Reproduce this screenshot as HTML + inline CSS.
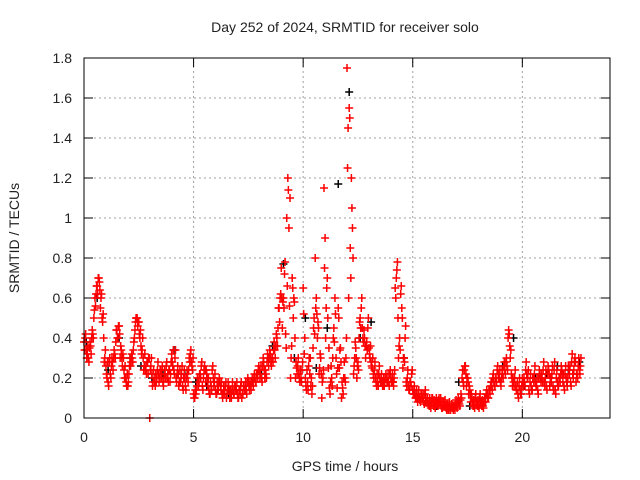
<!DOCTYPE html>
<html><head><meta charset="utf-8"><style>
body{margin:0;background:#fff}
svg{display:block;font-family:"Liberation Sans",sans-serif}
</style></head><body>
<svg id="chart" width="640" height="480" viewBox="0 0 640 480" xmlns="http://www.w3.org/2000/svg">
<rect width="640" height="480" fill="#fff"/>
<text x="345" y="32" font-size="14" text-anchor="middle" fill="#222">Day 252 of 2024, SRMTID for receiver solo</text>
<text transform="translate(19,238) rotate(-90)" font-size="14" text-anchor="middle" fill="#222">SRMTID / TECUs</text>
<text x="345" y="471" font-size="14" text-anchor="middle" fill="#222">GPS time / hours</text>
<g id="grid"></g>
<g id="ticks"></g>
<g id="marks"></g>
<rect x="84" y="58" width="526" height="360" fill="none" stroke="#000" stroke-width="1"/>
</svg>
<script>
const xTicks=[0,5,10,15,20];
const yTicks=[0,0.2,0.4,0.6,0.8,1,1.2,1.4,1.6,1.8];
const yTickLabels=["0","0.2","0.4","0.6","0.8","1","1.2","1.4","1.6","1.8"];
const redA=[0.38,0.34,0.30,0.36,0.42,0.60,0.66,0.68,0.62,0.40,
0.26,0.18,0.22,0.28,0.32,0.44,0.46,0.34,0.30,0.20,
0.16,0.30,0.30,0.40,0.50,0.48,0.36,0.30,0.24,0.28,
0.00,0.22,0.20,0.18,0.22,0.24,0.18,0.22,0.20,0.24,
0.32,0.24,0.20,0.22,0.18,0.16,0.20,0.24,0.30,0.28,
0.12,0.12,0.20,0.22,0.16,0.26,0.22,0.14,0.16,0.20,
0.14,0.16,0.18,0.12,0.14,0.10,0.16,0.12,0.14,0.16,
0.12,0.14,0.10,0.16,0.14,0.18,0.16,0.18,0.20,0.22,
0.24,0.20,0.28,0.22,0.30,0.32,0.30,0.34,0.40,0.55,
0.75,0.60,0.42,1.20,1.10,0.70,0.58,0.25,0.22,0.20,
0.65,0.20,0.18,0.22,0.12,0.50,0.60,0.45,0.30,0.20,
0.90,0.70,0.15,0.20,0.45,0.30,0.55,0.35,0.15,0.20,
1.75,1.55,1.20,0.22,0.35,0.28,0.50,0.45,0.40,0.38,
0.35,0.28,0.22,0.20,0.18,0.20,0.18,0.16,0.20,0.18,
0.20,0.18,0.65,0.78,0.40,0.55,0.30,0.18,0.16,0.18,
0.14,0.12,0.10,0.10,0.12,0.08,0.10,0.08,0.06,0.10,
0.06,0.08,0.10,0.06,0.08,0.06,0.05,0.04,0.06,0.05,
0.06,0.08,0.12,0.18,0.26,0.20,0.14,0.10,0.06,0.08,
0.06,0.08,0.06,0.10,0.12,0.14,0.16,0.18,0.20,0.22,
0.18,0.22,0.24,0.26,0.42,0.22,0.18,0.16,0.12,0.14,
0.20,0.18,0.22,0.14,0.16,0.20,0.18,0.14,0.22,0.20,
0.18,0.16,0.24,0.20,0.16,0.14,0.18,0.20,0.24,0.16,
0.20,0.26,0.18,0.22,0.30,0.22,0.24];
const redB=[0.40,0.32,0.35,0.40,0.50,0.62,0.70,0.55,0.48,0.30,
0.20,0.28,0.26,0.30,0.38,0.40,0.30,0.26,0.20,0.16,
0.22,0.28,0.34,0.48,0.46,0.40,0.34,0.26,0.22,0.30,
0.26,0.18,0.16,0.24,0.20,0.22,0.20,0.26,0.18,0.22,
0.26,0.30,0.22,0.18,0.22,0.20,0.14,0.18,0.32,0.24,
0.10,0.16,0.18,0.26,0.20,0.18,0.16,0.12,0.24,0.18,
0.12,0.18,0.14,0.12,0.16,0.14,0.10,0.14,0.12,0.14,
0.10,0.16,0.12,0.14,0.18,0.14,0.18,0.20,0.18,0.24,
0.22,0.26,0.20,0.28,0.30,0.26,0.34,0.36,0.45,0.60,
0.45,0.72,1.00,0.95,0.30,0.50,0.20,0.26,0.18,0.24,
0.32,0.14,0.26,0.16,0.35,0.80,0.40,0.25,0.10,1.15,
0.55,0.25,0.18,0.30,0.60,0.15,0.25,0.10,0.20,0.30,
1.45,0.85,0.95,0.30,0.20,0.40,0.55,0.38,0.30,0.45,
0.30,0.25,0.24,0.16,0.22,0.18,0.16,0.20,0.18,0.22,
0.18,0.20,0.70,0.30,0.62,0.25,0.40,0.20,0.14,0.22,
0.12,0.10,0.12,0.08,0.10,0.12,0.08,0.06,0.08,0.06,
0.08,0.06,0.08,0.05,0.06,0.04,0.06,0.05,0.04,0.07,
0.08,0.06,0.20,0.24,0.16,0.12,0.08,0.06,0.10,0.06,
0.10,0.06,0.08,0.12,0.10,0.16,0.20,0.16,0.24,0.20,
0.20,0.26,0.28,0.40,0.30,0.16,0.20,0.14,0.16,0.12,
0.16,0.24,0.20,0.18,0.14,0.22,0.16,0.20,0.18,0.24,
0.20,0.22,0.16,0.22,0.24,0.20,0.16,0.22,0.18,0.22,
0.16,0.22,0.28,0.24,0.18,0.26,0.26];
const redC=[0.34,0.30,0.28,0.32,0.40,0.56,0.62,0.64,0.50,0.28,
0.22,0.16,0.20,0.24,0.30,0.40,0.42,0.30,0.24,0.18,
0.18,0.26,0.28,0.44,0.50,0.42,0.32,0.24,0.26,0.22,
0.24,0.16,0.18,0.20,0.18,0.20,0.16,0.20,0.22,0.18,
0.28,0.22,0.18,0.16,0.20,0.14,0.16,0.22,0.28,0.26,
0.10,0.14,0.16,0.20,0.14,0.24,0.20,0.12,0.14,0.16,
0.12,0.14,0.16,0.10,0.12,0.12,0.14,0.10,0.12,0.14,
0.10,0.12,0.12,0.14,0.12,0.16,0.14,0.16,0.18,0.20,
0.20,0.18,0.24,0.20,0.26,0.28,0.28,0.30,0.36,0.48,
0.60,0.55,0.35,1.14,0.20,0.65,0.40,0.22,0.20,0.18,
0.52,0.16,0.14,0.30,0.16,0.42,0.52,0.22,0.22,0.24,
0.40,0.50,0.12,0.16,0.38,0.22,0.50,0.28,0.12,0.18,
1.25,1.50,1.05,0.26,0.30,0.24,0.45,0.40,0.36,0.34,
0.32,0.26,0.20,0.18,0.16,0.18,0.16,0.18,0.18,0.16,
0.18,0.16,0.60,0.50,0.34,0.50,0.28,0.16,0.14,0.16,
0.12,0.10,0.08,0.09,0.10,0.07,0.08,0.07,0.05,0.08,
0.05,0.07,0.08,0.05,0.06,0.05,0.04,0.04,0.05,0.04,
0.05,0.07,0.10,0.16,0.22,0.18,0.12,0.08,0.05,0.07,
0.05,0.07,0.05,0.08,0.10,0.12,0.14,0.16,0.18,0.20,
0.16,0.20,0.22,0.24,0.36,0.20,0.16,0.14,0.10,0.12,
0.18,0.16,0.20,0.12,0.14,0.18,0.16,0.12,0.20,0.18,
0.16,0.14,0.22,0.18,0.14,0.12,0.16,0.18,0.22,0.14,
0.18,0.24,0.16,0.20,0.28,0.20,0.22];
const redD=[0.42,0.36,0.38,0.44,0.54,0.66,0.70,0.60,0.52,0.34,
0.28,0.30,0.30,0.34,0.44,0.46,0.36,0.32,0.26,0.22,
0.26,0.32,0.38,0.50,0.48,0.44,0.40,0.32,0.28,0.30,
0.30,0.24,0.22,0.28,0.24,0.26,0.24,0.28,0.24,0.28,
0.34,0.34,0.26,0.24,0.26,0.24,0.20,0.24,0.34,0.30,
0.14,0.20,0.22,0.28,0.24,0.24,0.20,0.18,0.26,0.22,
0.18,0.20,0.18,0.16,0.18,0.18,0.14,0.18,0.16,0.18,
0.14,0.18,0.16,0.18,0.20,0.18,0.20,0.22,0.22,0.26,
0.26,0.30,0.24,0.32,0.34,0.30,0.38,0.42,0.55,0.62,
0.58,0.78,0.66,0.56,0.36,0.60,0.28,0.30,0.24,0.28,
0.40,0.24,0.30,0.20,0.45,0.55,0.48,0.32,0.18,0.75,
0.65,0.35,0.26,0.40,0.52,0.25,0.34,0.18,0.28,0.40,
0.60,0.70,0.80,0.38,0.26,0.48,0.60,0.44,0.36,0.50,
0.36,0.30,0.28,0.22,0.26,0.22,0.20,0.22,0.22,0.24,
0.22,0.24,0.74,0.36,0.66,0.30,0.46,0.24,0.18,0.24,
0.16,0.14,0.14,0.12,0.12,0.14,0.10,0.10,0.10,0.09,
0.10,0.09,0.10,0.08,0.09,0.07,0.08,0.07,0.06,0.09,
0.10,0.09,0.24,0.26,0.20,0.16,0.12,0.09,0.12,0.09,
0.12,0.09,0.10,0.14,0.14,0.18,0.22,0.20,0.26,0.24,
0.24,0.28,0.30,0.44,0.34,0.20,0.24,0.18,0.20,0.16,
0.20,0.28,0.24,0.22,0.20,0.26,0.20,0.24,0.22,0.28,
0.24,0.26,0.20,0.26,0.28,0.24,0.20,0.26,0.22,0.26,
0.20,0.26,0.32,0.28,0.22,0.30,0.30];
const black=[0.38,0.60,0.24,0.40,0.30,0.26,0.20,0.22,0.34,0.22,0.18,0.16,0.14,0.12,0.14,0.16,0.22,0.36,0.77,0.30,0.50,0.25,0.45,1.17,1.63,0.40,0.48,0.18,0.18,0.30,0.12,0.08,0.06,0.05,0.18,0.06,0.08,0.18,0.26,0.40,0.16,0.20,0.22,0.26,0.24,0.28];

const NS='http://www.w3.org/2000/svg';
const X0=84,X1=610,Y0=418,Y1=58,XMAX=24,YMAX=1.8;
function xs(v){return X0+(X1-X0)*v/XMAX;}
function ys(v){return Y0-(Y0-Y1)*v/YMAX;}
function mk(tag,attrs,parent){const e=document.createElementNS(NS,tag);for(const k in attrs)e.setAttribute(k,attrs[k]);parent.appendChild(e);return e;}
const grid=document.getElementById('grid'),ticks=document.getElementById('ticks'),marks=document.getElementById('marks');
yTicks.forEach((v,i)=>{
  const y=ys(v);
  if(i>0&&i<yTicks.length-1){const g=mk('line',{x1:X0,x2:X1,y1:y,y2:y,stroke:'#a0a0a0','stroke-dasharray':'2,3'},grid);
  
  }
  const t=mk('line',{x1:X0,x2:X0+9,y1:y,y2:y,stroke:'#000'},ticks);
  
  
  const t2=mk('line',{x1:X1-9,x2:X1,y1:y,y2:y,stroke:'#000'},ticks);
  
  
  const l=mk('text',{x:X0-12,y:y+5,'font-size':14,'text-anchor':'end',fill:'#222'},ticks);
  l.textContent=yTickLabels[i];
  
  
});
xTicks.forEach(v=>{
  const x=xs(v);
  if(v>0){const g=mk('line',{x1:x,x2:x,y1:Y0,y2:Y1,stroke:'#a0a0a0','stroke-dasharray':'2,3'},grid);
  
  }
  const t=mk('line',{x1:x,x2:x,y1:Y0,y2:Y0-9,stroke:'#000'},ticks);
  
  
  const t2=mk('line',{x1:x,x2:x,y1:Y1,y2:Y1+9,stroke:'#000'},ticks);
  
  
  const l=mk('text',{x:x,y:Y0+24,'font-size':14,'text-anchor':'middle',fill:'#222'},ticks);
  l.textContent=String(v);
  
  
});
function cross(t,v,color,name){
  const x=xs(t),y=ys(v);
  const p=mk('path',{d:`M${x-4},${y}H${x+4}M${x},${y-4}V${y+4}`,stroke:color,'stroke-width':1.5,fill:'none'},marks);
  
  
}
black.forEach((v,i)=>cross(i*0.5+0.1,v,'#000','black-point'));
redA.forEach((v,i)=>cross(i*0.1,v,'#f00','red-point'));
redC.forEach((v,i)=>cross(i*0.1+0.025,v,'#f00','red-point'));
redB.forEach((v,i)=>cross(i*0.1+0.05,v,'#f00','red-point'));
redD.forEach((v,i)=>cross(i*0.1+0.075,v,'#f00','red-point'));
</script>
</body></html>
